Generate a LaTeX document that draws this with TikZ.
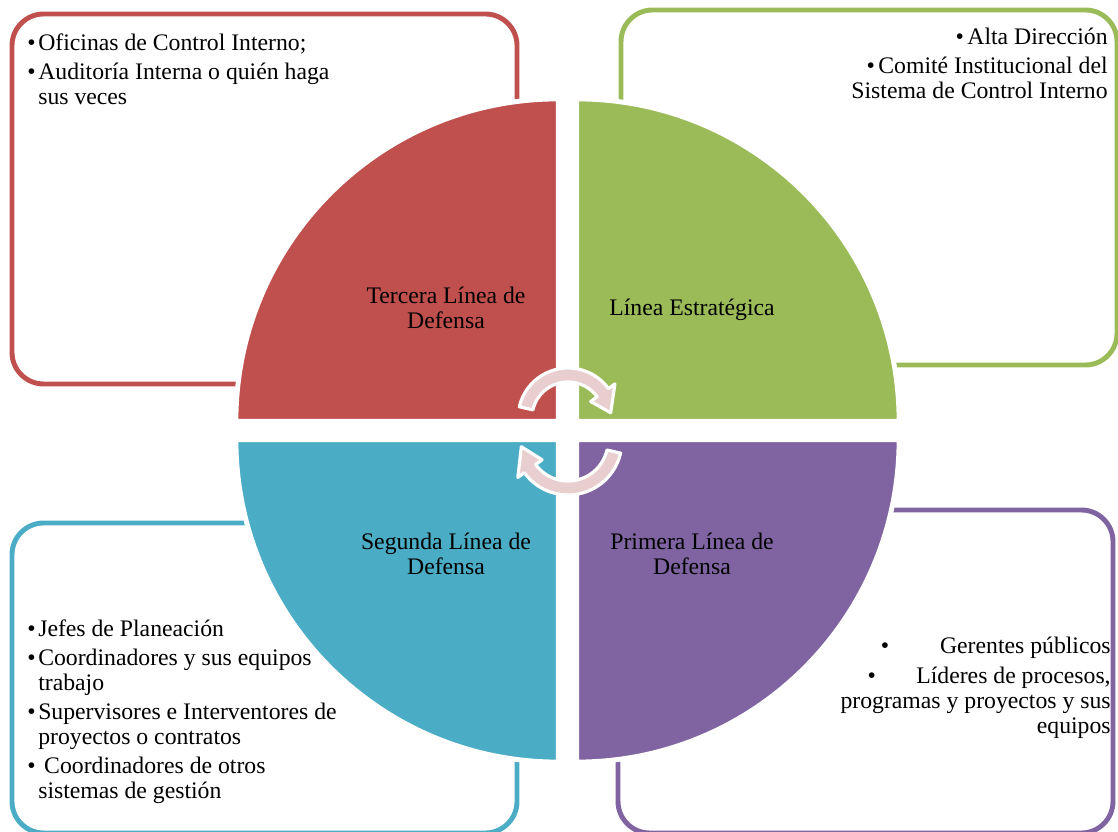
\documentclass[tikz,border=0pt]{standalone}
\usepackage{fontspec}
\setmainfont{Liberation Serif}
\usetikzlibrary{calc}
\definecolor{tercera}{RGB}{192,80,77}
\definecolor{estrategica}{RGB}{155,187,89}
\definecolor{segunda}{RGB}{75,172,198}
\definecolor{primera}{RGB}{128,100,162}
\definecolor{rosa}{RGB}{232,206,207}
\begin{document}
\begin{tikzpicture}[x=0.02cm, y=0.02cm]
  \tikzstyle{caja} = [line width=2.8pt, rounded corners=18pt]
  \tikzstyle{sector} = [draw=white, line width=2.8pt]
  \tikzstyle{flecha} = [fill=rosa, draw=white, line width=1.8pt, line join=round]
  \tikzstyle{lista} = [inner sep=0pt, font=\fontsize{13.5}{14.3}\selectfont]
  \tikzstyle{linea} = [inner sep=0pt, align=center, font=\fontsize{13.5}{14.3}\selectfont]
  \useasboundingbox (0,0) rectangle (1118,831);

  % cajas
  \draw[caja, tercera] (12,447) rectangle (517,817);
  \draw[caja, estrategica] (621,466) rectangle (1117,821);
  \draw[caja, segunda] (12,-2) rectangle (517,308);
  \draw[caja, primera] (618,-2) rectangle (1113,321);

  % circulo
  \filldraw[sector, fill=tercera] (558.4,409.6) -- ++(90:322.5) arc[start angle=90, end angle=180, radius=322.5] -- cycle;
  \filldraw[sector, fill=estrategica] (576.6,409.6) -- ++(0:322.5) arc[start angle=0, end angle=90, radius=322.5] -- cycle;
  \filldraw[sector, fill=segunda] (558.4,391.4) -- ++(180:322.5) arc[start angle=180, end angle=270, radius=322.5] -- cycle;
  \filldraw[sector, fill=primera] (576.6,391.4) -- ++(270:322.5) arc[start angle=270, end angle=360, radius=322.5] -- cycle;

  % flechas del ciclo
  \coordinate (tc) at (568,413);
  \coordinate (bc) at (568,390);
  \filldraw[flecha] ($(tc)+(167:36)$) -- ($(tc)+(167:50)$) arc[start angle=167, end angle=36, radius=50]
    -- ($(tc)+(36:58)$) -- ($(tc)+(7:43)$) -- ($(tc)+(36:28)$) -- ($(tc)+(36:36)$)
    arc[start angle=36, end angle=167, radius=36] -- cycle;
  \filldraw[flecha] ($(bc)+(347:40)$) -- ($(bc)+(347:54)$) arc[start angle=347, end angle=216, radius=54]
    -- ($(bc)+(216:62)$) -- ($(bc)+(187:47)$) -- ($(bc)+(216:32)$) -- ($(bc)+(216:40)$)
    arc[start angle=216, end angle=347, radius=40] -- cycle;

  % textos
  \node[linea] (tercera-l) at (446,523) {Tercera Línea de\\Defensa};
  \node[linea] (estrategica-l) at (692,521) {Línea Estratégica};
  \node[linea] (segunda-l) at (446,277) {Segunda Línea de\\Defensa};
  \node[linea] (primera-l) at (692,277) {Primera Línea de\\Defensa};

  \node[lista, anchor=north west, align=left] (tercera-t) at (27,798)
    {\textbullet\hspace{1.5pt}Oficinas de Control Interno;\\[2.4pt]\textbullet\hspace{1.5pt}Auditoría Interna o quién haga\\\hphantom{\textbullet\hspace{1.5pt}}sus veces};
  \node[lista, anchor=north east, align=right] (estrategica-t) at (1108,803)
    {\textbullet\hspace{2pt}Alta Dirección\\[1.8pt]\textbullet\hspace{2pt}Comité Institucional del\\Sistema de Control Interno};
  \node[lista, anchor=north west, align=left] (segunda-t) at (27,212)
    {\textbullet\hspace{1.5pt}Jefes de Planeación\\[2.2pt]\textbullet\hspace{1.5pt}Coordinadores y sus equipos\\\hphantom{\textbullet\hspace{1.5pt}}trabajo\\[2.2pt]\textbullet\hspace{1.5pt}Supervisores e Interventores de\\\hphantom{\textbullet\hspace{1.5pt}}proyectos o contratos\\[2.2pt]\textbullet\hspace{1.5pt}\ Coordinadores de otros\\\hphantom{\textbullet\hspace{1.5pt}}sistemas de gestión};
  \node[lista, anchor=north east, align=right] (primera-t) at (1111,194)
    {\textbullet\hspace{29pt}Gerentes públicos\\[2.4pt]\textbullet\hspace{23pt}Líderes de procesos,\\programas y proyectos y sus\\equipos};
\end{tikzpicture}
\end{document}
